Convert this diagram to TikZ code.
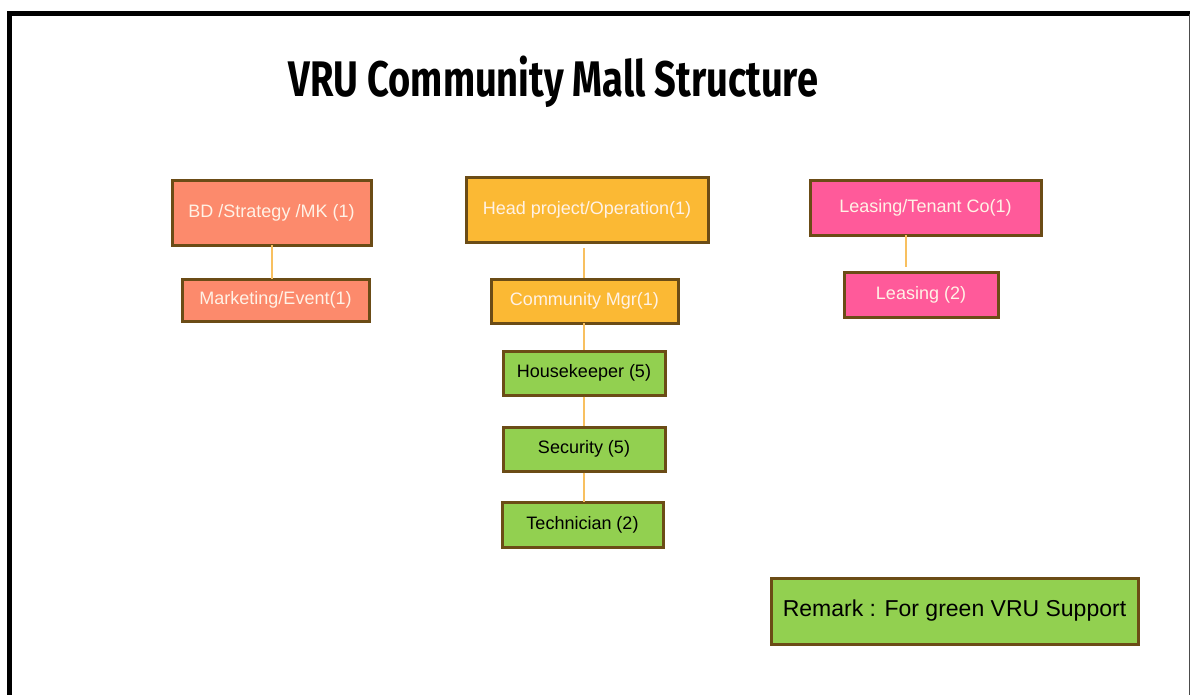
\documentclass[tikz,border=0pt]{standalone}
\usepackage{fontspec}
\setmainfont{Liberation Sans}
\newfontfamily\titlefont{Fira Sans}
\definecolor{salmon}{HTML}{FC8A6C}
\definecolor{gold}{HTML}{FBB934}
\definecolor{pinkc}{HTML}{FF5A9A}
\definecolor{greenc}{HTML}{92D050}
\definecolor{brownb}{HTML}{6B4C16}
\definecolor{linkc}{HTML}{F8C060}
\definecolor{lighttext}{HTML}{FFF2E6}
\tikzset{
  box/.style={draw=brownb, line width=3pt, inner sep=0pt, font=\fontsize{18}{20}\selectfont},
  warm/.style={box, text=lighttext},
  grn/.style={box, fill=greenc, text=black},
  link/.style={draw=linkc, line width=1.2pt},
}
\begin{document}
\begin{tikzpicture}[x=1pt,y=-1pt]
\useasboundingbox (0,0) rectangle (1191,695);
\fill[white] (0,0) rectangle (1191,695);
% frame
\draw[line width=5pt] (9.5,698) -- (9.5,14) -- (1190,14);
\draw[line width=1.5pt, black!70] (1189.5,14) -- (1189.5,698);
% title
\node[anchor=base, font=\titlefont\bfseries\fontsize{50}{55}\selectfont] (title) at (553.5,97)
  {\resizebox{529pt}{\height}{VRU Community Mall Structure}};
% left column
\node[warm, fill=salmon, minimum width=199pt, minimum height=64pt] (bd) at (271.5,213) {BD /Strategy /MK (1)};
\node[warm, fill=salmon, minimum width=187pt, minimum height=42pt] (mk) at (275.5,300) {Marketing/Event(1)};
% middle column
\node[warm, fill=gold, minimum width=242pt, minimum height=64pt] (head) at (587,210) {Head project/Operation(1)};
\node[warm, fill=gold, minimum width=187pt, minimum height=44pt] (cm) at (584.5,301) {Community Mgr(1)};
\node[grn, minimum width=162pt, minimum height=44pt] (hk) at (584,373) {Housekeeper (5)};
\node[grn, minimum width=162pt, minimum height=44pt] (sec) at (584,449) {Security (5)};
\node[grn, minimum width=161pt, minimum height=45pt] (tech) at (582.5,524.5) {Technician (2)};
% right column
\node[warm, fill=pinkc, minimum width=231pt, minimum height=54pt] (lt) at (925.5,208) {Leasing/Tenant Co(1)};
\node[warm, fill=pinkc, minimum width=154pt, minimum height=45pt] (ls) at (921,294.5) {Leasing (2)};
% remark
\node[grn, minimum width=367pt, minimum height=66pt, font=\fontsize{23}{26}\selectfont] (rem) at (954.5,611) {Remark : For green VRU Support};
% connectors
\coordinate (hd) at (584,248);
\coordinate (lsTop) at (906,267);
\draw[link] (272,245) -- (272,279);
\draw[link] (hd) -- (cm.north -| hd);
\draw[link] (584,323) -- (hk.north);
\draw[link] (hk.south) -- (sec.north);
\draw[link] (sec.south) -- (584,502);
\draw[link] (906,235) -- (lsTop);
\end{tikzpicture}
\end{document}
